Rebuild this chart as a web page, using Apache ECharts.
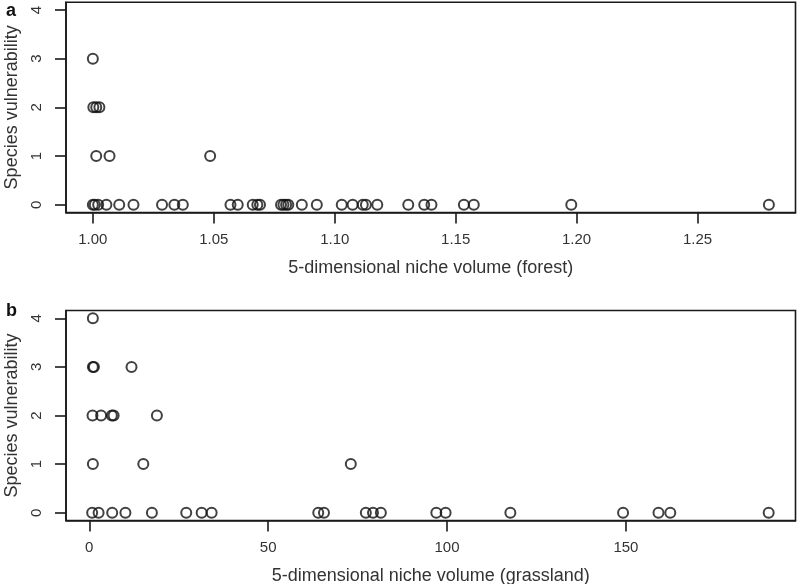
<!DOCTYPE html>
<html>
<head>
<meta charset="utf-8">
<script src="https://cdn.jsdelivr.net/npm/echarts@6/dist/echarts.min.js"></script>
<style>
  html, body { margin: 0; padding: 0; background: #fff; }
  #chart { width: 800px; height: 584px; }
</style>
</head>
<body>
<div id="chart"></div>
<script>
// panel a: niche volume (forest), one list per vulnerability level
const forestV0 = [1.0000, 1.0008, 1.0022, 1.0056, 1.0109, 1.0168, 1.0286, 1.0337, 1.0372,
  1.0569, 1.0599, 1.0661, 1.0680, 1.0691, 1.0778, 1.0788, 1.0799, 1.0808, 1.0864,
  1.0926, 1.1029, 1.1074, 1.1116, 1.1129, 1.1176, 1.1304, 1.1370, 1.1400, 1.1534,
  1.1575, 1.1978, 1.2795];
const forestV1 = [1.0014, 1.0069, 1.0485];
const forestV2 = [1.0002, 1.0014, 1.0027];
const forestV3 = [1.0000];
const forestV4 = [];

// panel b: niche volume (grassland)
const grassV0 = [0.8, 2.6, 6.4, 10.1, 17.5, 27.1, 31.4, 34.2, 64.0, 65.6, 77.3, 79.3,
  81.5, 97.0, 99.6, 117.7, 149.2, 159.1, 162.4, 189.9];
const grassV1 = [1.0, 15.1, 73.1];
const grassV2 = [0.9, 3.3, 6.3, 6.8, 18.9];
const grassV3 = [1.0, 1.3, 11.8];
const grassV4 = [1.0];

const yTicks = [0, 1, 2, 3, 4];
const forestTicks = [1.00, 1.05, 1.10, 1.15, 1.20, 1.25];
const grassTicks = [0, 50, 100, 150];

function toPoints(rows) {
  const pts = [];
  rows.forEach((row, level) => {
    row.forEach(v => pts.push([v, level]));
  });
  return pts;
}

const FONT = "'Liberation Sans', Arial, sans-serif";
const INK = "#1a1a1a";

function xAxisFor(idx, min, max, ticks, digits, name) {
  return {
    gridIndex: idx,
    type: "value",
    min: min,
    max: max,
    name: name,
    nameLocation: "middle",
    nameGap: 47,
    nameTextStyle: { color: "#333", fontSize: 18, fontFamily: FONT },
    splitLine: { show: false },
    axisLine: { show: true, onZero: false, lineStyle: { color: INK, width: 1.6 } },
    axisTick: { show: true, length: 11, customValues: ticks, lineStyle: { color: INK, width: 1.6 } },
    axisLabel: {
      customValues: ticks,
      margin: 20,
      color: "#333",
      fontSize: 15,
      fontFamily: FONT,
      formatter: v => v.toFixed(digits),
    },
  };
}

function yAxisFor(idx) {
  return {
    gridIndex: idx,
    type: "value",
    min: -0.16,
    max: 4.16,
    name: "Species vulnerability",
    nameLocation: "middle",
    nameGap: 42,
    nameTextStyle: { color: "#333", fontSize: 18, fontFamily: FONT },
    splitLine: { show: false },
    axisLine: { show: true, onZero: false, lineStyle: { color: INK, width: 1.6 } },
    axisTick: { show: true, length: 11, customValues: yTicks, lineStyle: { color: INK, width: 1.6 } },
    axisLabel: {
      customValues: yTicks,
      rotate: 90,
      margin: 22,
      color: "#333",
      fontSize: 15,
      fontFamily: FONT,
    },
  };
}

const circleStyle = {
  color: "rgba(0,0,0,0)",
  borderColor: "#111",
  borderWidth: 2,
};

const myChart = echarts.init(document.getElementById("chart"));
const option = {
  animation: false,
  backgroundColor: "#fff",
  title: [
    { text: "a", left: 1, top: -3, textStyle: { fontSize: 18, fontWeight: "bold", color: "#111", fontFamily: FONT } },
    { text: "b", left: 1, top: 297, textStyle: { fontSize: 18, fontWeight: "bold", color: "#111", fontFamily: FONT } },
  ],
  grid: [
    { left: 66, right: 4.5, top: 2.2, height: 210.3, outerBoundsMode: "none", containLabel: false, show: true, borderColor: INK, borderWidth: 1.6, backgroundColor: "transparent" },
    { left: 66, right: 4.5, top: 310.5, height: 210, outerBoundsMode: "none", containLabel: false, show: true, borderColor: INK, borderWidth: 1.6, backgroundColor: "transparent" },
  ],
  xAxis: [
    xAxisFor(0, 0.9889, 1.2905, forestTicks, 2, "5-dimensional niche volume (forest)"),
    xAxisFor(1, -6.51, 197.4, grassTicks, 0, "5-dimensional niche volume (grassland)"),
  ],
  yAxis: [yAxisFor(0), yAxisFor(1)],
  series: [
    {
      type: "scatter",
      xAxisIndex: 0,
      yAxisIndex: 0,
      symbol: "circle",
      symbolSize: 10,
      silent: true,
      itemStyle: circleStyle,
      data: toPoints([forestV0, forestV1, forestV2, forestV3, forestV4]),
    },
    {
      type: "scatter",
      xAxisIndex: 1,
      yAxisIndex: 1,
      symbol: "circle",
      symbolSize: 10,
      silent: true,
      itemStyle: circleStyle,
      data: toPoints([grassV0, grassV1, grassV2, grassV3, grassV4]),
    },
  ],
};
myChart.setOption(option);
window.addEventListener("resize", function () {
  myChart.resize();
});
</script>
</body>
</html>
